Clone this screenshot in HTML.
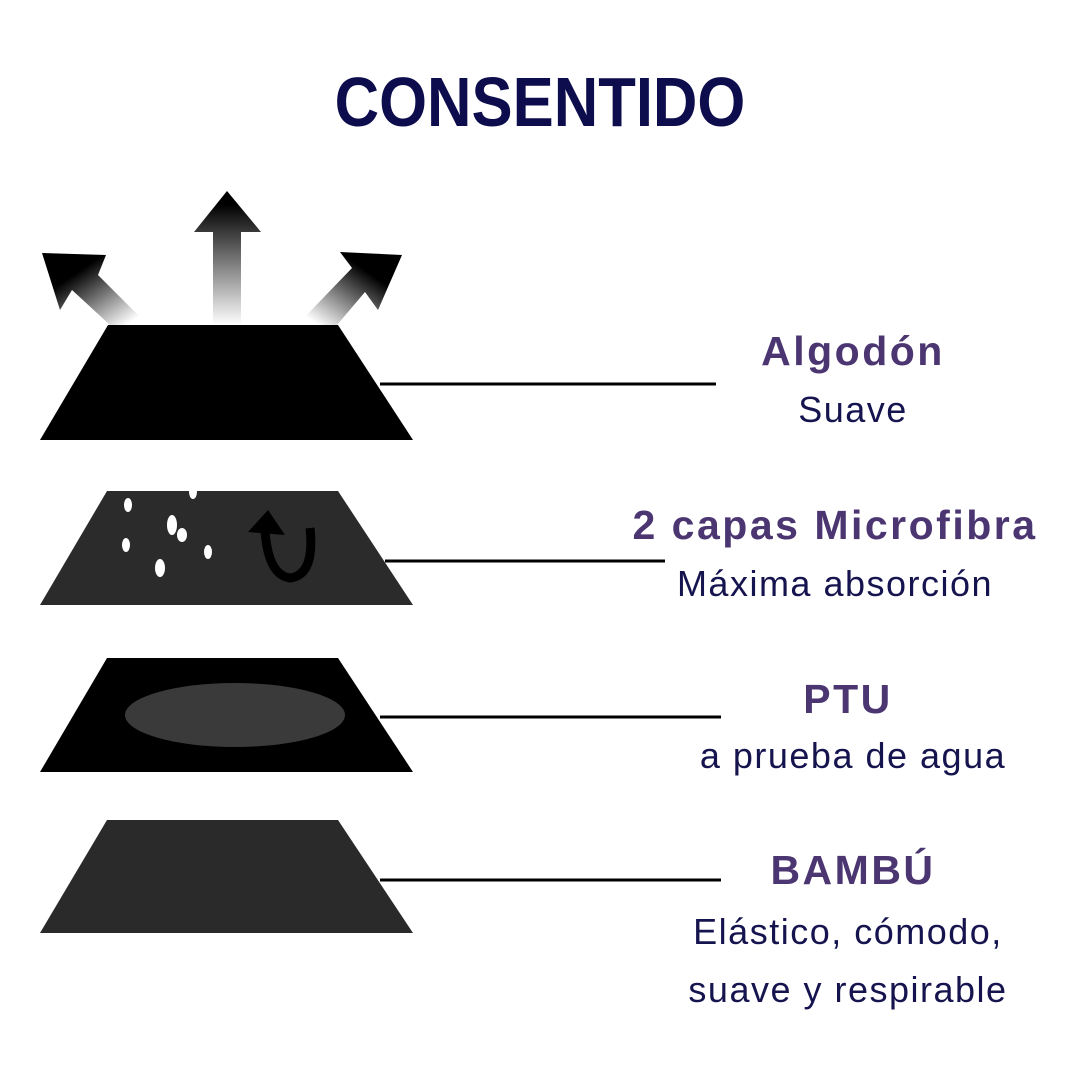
<!DOCTYPE html>
<html><head><meta charset="utf-8"><style>
body{margin:0;width:1080px;height:1080px;background:#fff;position:relative;overflow:hidden;font-family:"Liberation Sans",sans-serif}
.t{position:absolute;text-align:center;white-space:nowrap}
.h{color:#4b3672;font-weight:bold;font-size:41px;letter-spacing:2.5px}
.s{color:#16144f;font-size:36px;letter-spacing:1.5px}
</style></head><body>
<div class="t" style="left:0;width:1080px;top:62px;font-size:70px;font-weight:bold;color:#0d0c4c;transform:scaleX(0.88)">CONSENTIDO</div>
<svg width="1080" height="1080" style="position:absolute;left:0;top:0">
<defs>
<linearGradient id="gu" x1="0" y1="1" x2="0" y2="0"><stop offset="0" stop-color="#fff"/><stop offset="0.9" stop-color="#000"/></linearGradient>
<linearGradient id="gl" x1="1" y1="1" x2="0" y2="0"><stop offset="0.1" stop-color="#fff"/><stop offset="0.7" stop-color="#000"/></linearGradient>
<linearGradient id="gr" x1="0" y1="1" x2="1" y2="0"><stop offset="0.1" stop-color="#fff"/><stop offset="0.7" stop-color="#000"/></linearGradient>
</defs>
<polygon points="213,325 241,325 241,232 261,232 227,191 194,232 213,232" fill="url(#gu)"/>
<polygon points="110,325 148,325 98,275 106,255 42,253 60,310 72,290" fill="url(#gl)"/>
<polygon points="297,325 337,325 365,292 378,310 402,255 340,252 352,268" fill="url(#gr)"/>
<polygon points="108,325 338,325 413,440 40,440" fill="#000"/>
<polygon points="107,491 338,491 413,605 40,605" fill="#2b2b2b"/>
<polygon points="107,658 338,658 413,772 40,772" fill="#000"/>
<ellipse cx="235" cy="715" rx="110" ry="32" fill="#3a3a3a"/>
<polygon points="107,820 338,820 413,933 40,933" fill="#2a2a2a"/>
<g fill="#fff">
<ellipse cx="128" cy="505" rx="4" ry="7"/><ellipse cx="193" cy="492" rx="4" ry="7"/>
<ellipse cx="172" cy="525" rx="5" ry="10"/><ellipse cx="182" cy="535" rx="5" ry="7"/>
<ellipse cx="126" cy="545" rx="4" ry="7"/><ellipse cx="208" cy="552" rx="4" ry="7"/>
<ellipse cx="160" cy="568" rx="5" ry="9"/>
</g>
<path d="M265 530 Q268 575 290 578 Q315 575 310 528" fill="none" stroke="#000" stroke-width="9"/>
<polygon points="248,532 268,510 285,535" fill="#000"/>
<g stroke="#000" stroke-width="3">
<line x1="380" y1="384" x2="716" y2="384"/>
<line x1="385" y1="561" x2="665" y2="561"/>
<line x1="380" y1="717" x2="721" y2="717"/>
<line x1="380" y1="880" x2="721" y2="880"/>
</g>
</svg>
<div class="t h" style="left:653px;width:400px;top:328px">Algodón</div>
<div class="t s" style="left:653px;width:400px;top:389px">Suave</div>
<div class="t h" style="left:600px;width:470px;top:502px">2 capas Microfibra</div>
<div class="t s" style="left:600px;width:470px;top:563px">Máxima absorción</div>
<div class="t h" style="left:648px;width:400px;top:676px">PTU</div>
<div class="t s" style="left:653px;width:400px;top:735px">a prueba de agua</div>
<div class="t h" style="left:653px;width:400px;top:847px">BAMBÚ</div>
<div class="t s" style="left:648px;width:400px;top:911px">Elástico, cómodo,</div>
<div class="t s" style="left:648px;width:400px;top:969px">suave y respirable</div>
</body></html>
